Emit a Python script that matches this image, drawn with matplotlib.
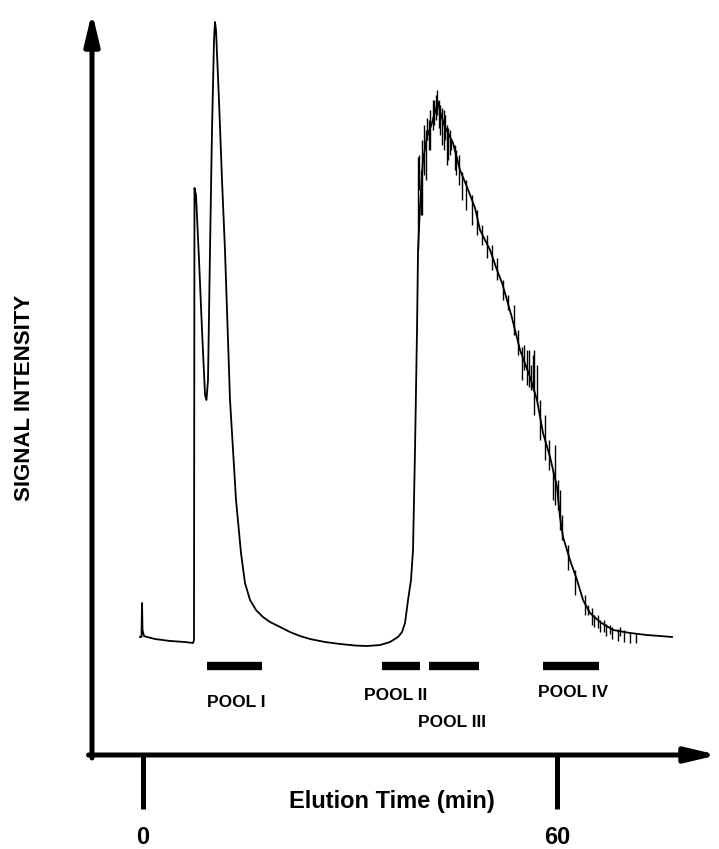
import numpy as np
import matplotlib
matplotlib.use("Agg")
import matplotlib.pyplot as plt

plt.rcParams['font.family'] = ['Liberation Sans', 'DejaVu Sans']
plt.rcParams['font.weight'] = 'bold'

# Chromatogram trace: elution time (min) vs detector signal (arb. units)
time_min = [-0.43, -0.22, -0.14, -0.07, 0.14, 0.58, 1.74, 3.91, 6.09, 7.25,
            7.39, 7.46, 7.68, 8.12, 8.55, 8.99, 9.20, 9.42, 9.71, 10.00,
            10.29, 10.43, 10.58, 11.01, 11.45, 11.88, 12.61, 13.48, 14.20, 14.78,
            15.51, 16.38, 17.39, 18.41, 19.86, 21.30, 22.75, 24.20, 26.38, 28.55,
            30.72, 32.46, 34.35, 35.80, 36.96, 37.54, 37.97, 38.41, 38.84, 39.13,
            39.42, 39.71, 39.86, 40.14, 40.58, 41.16, 41.88, 42.32, 42.75, 43.19,
            43.77, 44.20, 44.93, 45.94, 46.96, 48.12, 48.84, 50.29, 51.30, 52.03,
            52.75, 53.48, 54.64, 56.09, 57.10, 57.97, 58.99, 60.00, 60.43, 60.87,
            61.88, 62.90, 63.77, 64.78, 66.23, 68.12, 70.58, 73.04, 74.93, 76.67]
signal = [16.86, 16.86, 21.71, 17.86, 17.00, 16.86, 16.57, 16.29, 16.14, 16.00,
          16.43, 81.00, 80.00, 70.71, 60.71, 51.43, 50.71, 53.57, 72.14, 89.29,
          102.14, 104.71, 103.57, 93.57, 82.14, 72.14, 50.71, 36.43, 28.86, 24.57,
          22.14, 20.71, 19.71, 19.00, 18.29, 17.57, 17.00, 16.57, 16.14, 15.86,
          15.64, 15.57, 15.71, 16.14, 16.86, 17.57, 18.86, 22.14, 25.00, 29.29,
          43.57, 60.71, 72.14, 78.29, 85.00, 88.29, 90.29, 91.86, 93.29, 91.43,
          89.71, 88.86, 87.43, 83.57, 81.14, 78.14, 75.00, 72.14, 69.29, 67.43,
          65.00, 62.43, 57.86, 54.00, 50.71, 46.00, 42.57, 38.29, 34.00, 31.14,
          27.86, 25.00, 22.14, 20.29, 19.00, 17.86, 17.43, 17.14, 17.00, 16.86]

# Recorder pen jitter on the broad peak: (time, low, high)
jitter_t = [39.86, 40.00, 40.29, 40.43, 40.72, 41.01, 41.16, 41.45, 41.59, 42.03,
            42.17, 42.46, 42.61, 42.90, 43.04, 43.33, 43.62, 43.77, 44.06, 44.20,
            44.49, 44.64, 45.22, 45.36, 45.80, 46.23, 46.81, 47.68, 48.41, 49.13,
            49.86, 50.58, 51.30, 52.17, 52.90, 53.77, 54.35, 54.93, 55.22, 55.65,
            55.94, 56.23, 56.52, 56.67, 57.10, 57.54, 58.26, 58.84, 59.42, 59.71,
            60.14, 60.43, 60.72, 61.59, 62.61, 64.06, 64.49, 65.07, 65.36, 65.94,
            66.23, 66.81, 67.10, 67.68, 67.97, 68.84, 69.13, 69.71, 70.58, 71.45]
jitter_lo = [72.14, 80.71, 77.14, 77.14, 82.86, 82.14, 87.86, 86.43, 86.43, 89.29,
             90.00, 90.71, 91.43, 89.57, 88.57, 87.14, 86.43, 87.86, 84.29, 85.00,
             85.71, 86.43, 83.57, 82.86, 81.43, 79.29, 77.86, 75.71, 74.29, 72.86,
             71.00, 69.29, 67.86, 65.00, 63.57, 60.00, 57.14, 53.57, 55.00, 52.86,
             52.57, 52.14, 52.14, 48.57, 50.71, 45.00, 42.14, 40.71, 36.43, 35.71,
             35.00, 32.14, 30.71, 26.43, 22.86, 20.00, 20.00, 18.57, 18.29, 18.14,
             17.57, 17.57, 17.00, 17.29, 16.57, 16.29, 17.00, 16.14, 16.00, 16.00]
jitter_hi = [85.43, 85.71, 83.57, 87.86, 90.00, 89.29, 91.00, 90.71, 92.14, 93.57,
             93.57, 94.29, 95.00, 93.57, 92.86, 92.43, 92.14, 91.43, 90.00, 89.57,
             89.29, 87.86, 87.14, 86.43, 85.71, 83.29, 82.14, 80.00, 77.86, 75.71,
             74.29, 72.86, 71.00, 67.86, 65.71, 64.29, 60.71, 58.29, 58.57, 57.86,
             57.86, 55.71, 57.14, 57.86, 55.71, 50.71, 48.57, 45.00, 40.71, 44.29,
             39.29, 37.86, 34.29, 30.00, 26.43, 22.86, 21.43, 21.00, 20.00, 20.00,
             19.29, 19.29, 18.71, 18.57, 18.29, 18.00, 18.29, 17.86, 17.57, 17.43]

# Fraction pools collected
pool_names = ["POOL I", "POOL II", "POOL III", "POOL IV"]
pool_start = [9.28, 34.64, 41.45, 57.97]
pool_end = [17.25, 40.14, 48.70, 66.09]
pool_label_t = [13.48, 36.67, 44.71, 62.32]
pool_label_y = [7.43, 8.57, 4.71, 8.86]

fig = plt.figure(figsize=(7.19, 8.49), dpi=100)
ax = fig.add_axes([91 / 719, 94 / 849, 627 / 719, 743 / 849])
ax.set_xlim(-7.536, 83.33)
ax.set_ylim(0, 106.14)

ax.plot(time_min, signal, color='black', lw=1.3, solid_joinstyle='round')
ax.vlines(jitter_t, jitter_lo, jitter_hi, color='black', lw=1.0)

ax.hlines([12.71] * 4, pool_start, pool_end, color='black', lw=6)
for name, t, y in zip(pool_names, pool_label_t, pool_label_y):
    ax.text(t, y, name, ha='center', va='center', fontsize=12.5,
            fontweight='bold')

# axes drawn as arrows
for sp in ax.spines.values():
    sp.set_visible(False)
arrow = dict(arrowstyle='-|>,head_length=1.9,head_width=0.45', lw=3.6,
             color='black', shrinkA=0, shrinkB=0, mutation_scale=10)
ax.annotate('', xy=(0.0016, 1.0), xytext=(0.0016, -0.004),
            xycoords='axes fraction', arrowprops=arrow)
ax.annotate('', xy=(1.0, 0.0), xytext=(-0.004, 0.0),
            xycoords='axes fraction', arrowprops=arrow)

ax.set_xticks([0, 60])
ax.set_xticklabels(['0', '60'], fontsize=17, fontweight='bold')
ax.set_yticks([])
ax.tick_params(axis='x', direction='out', length=39, width=3.6, pad=12)

ax.set_xlabel('Elution Time (min)', fontsize=17, fontweight='bold')
ax.xaxis.set_label_coords(0.48, -0.063)
ax.xaxis.label.set_va('center')
ax.set_ylabel('SIGNAL INTENSITY', fontsize=16, fontweight='bold')
ax.yaxis.set_label_coords(-0.106, 0.48)
ax.yaxis.label.set_va('center')

fig.savefig('out.png', dpi=100)
